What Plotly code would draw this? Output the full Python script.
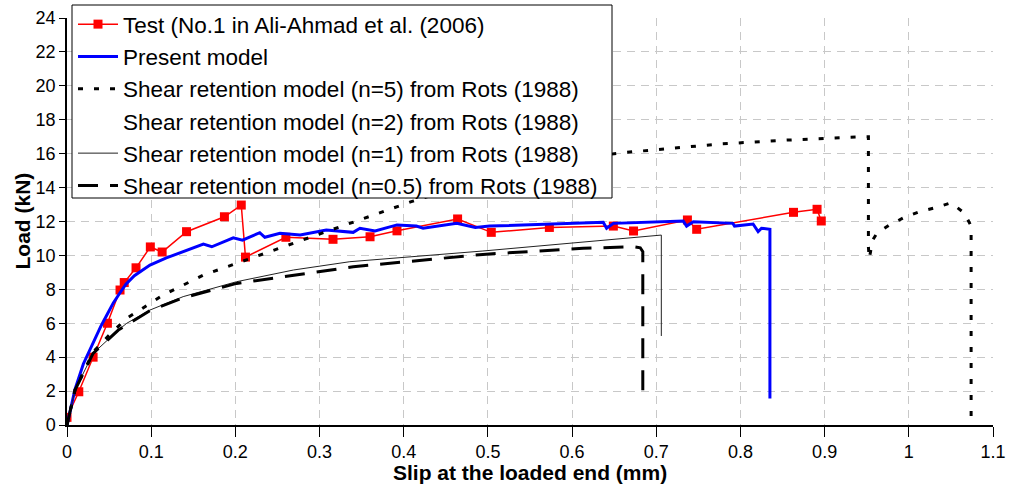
import plotly.graph_objects as go

# ---- Data ----
test_x = [0.0, 0.014, 0.031, 0.048, 0.063, 0.068, 0.082, 0.099, 0.113, 0.142, 0.187, 0.207, 0.212,
          0.260, 0.316, 0.360, 0.392, 0.464, 0.504, 0.573, 0.649, 0.673, 0.737, 0.748, 0.863, 0.891, 0.896]
test_y = [0.45, 1.96, 4.0, 6.0, 7.96, 8.4, 9.27, 10.5, 10.2, 11.4, 12.28, 12.97, 9.9,
          11.07, 10.95, 11.1, 11.45, 12.15, 11.36, 11.65, 11.73, 11.44, 12.09, 11.54, 12.54, 12.72, 12.03]

model_x = [0.0, 0.005, 0.0095, 0.0194, 0.031, 0.04, 0.0475, 0.055, 0.063, 0.07, 0.08, 0.0986, 0.118, 0.138,
           0.162, 0.172, 0.1975, 0.2085, 0.229, 0.235, 0.253, 0.277, 0.308, 0.34, 0.348, 0.366, 0.392,
           0.415, 0.423, 0.463, 0.485, 0.502, 0.574, 0.637, 0.641, 0.649, 0.732, 0.736, 0.744, 0.791,
           0.793, 0.815, 0.821, 0.825, 0.835, 0.835]
model_y = [0.0, 1.2, 2.1, 3.6, 4.9, 5.8, 6.5, 7.2, 7.8, 8.3, 8.8, 9.43, 9.85, 10.22,
           10.67, 10.51, 11.04, 10.9, 11.34, 11.07, 11.3, 11.2, 11.5, 11.36, 11.6, 11.44, 11.8,
           11.73, 11.6, 11.89, 11.65, 11.73, 11.85, 11.95, 11.6, 11.89, 12.03, 11.73, 11.99, 11.89,
           11.73, 11.85, 11.4, 11.6, 11.54, 1.57]

n5_x = [0.0, 0.0095, 0.031, 0.05, 0.071, 0.114, 0.162, 0.2015, 0.261, 0.312, 0.348, 0.3875, 0.409,
        0.45, 0.5, 0.55, 0.6, 0.65, 0.672, 0.7755, 0.855, 0.946, 0.952, 0.952, 0.953, 0.957, 0.962,
        0.977, 0.995, 1.013, 1.033, 1.05, 1.066, 1.074, 1.074]
n5_y = [0.0, 2.06, 4.3, 5.3, 6.29, 7.66, 8.84, 9.53, 10.61, 11.5, 12.09, 12.78, 13.17,
        13.8, 14.5, 15.1, 15.6, 16.0, 16.11, 16.57, 16.8, 17.0, 17.0, 10.5, 9.8, 10.9, 11.3,
        11.79, 12.25, 12.58, 12.83, 13.1, 12.5, 11.73, 0.3]

n2_x = [0.0, 0.2, 0.4, 0.6]
n2_y = [0.0, 8.6, 9.9, 10.8]

n1_x = [0.0, 0.0095, 0.031, 0.061, 0.071, 0.0986, 0.138, 0.2015, 0.269, 0.336, 0.494, 0.6, 0.704, 0.706, 0.706]
n1_y = [0.0, 2.06, 4.22, 5.6, 6.0, 6.78, 7.57, 8.45, 9.14, 9.63, 10.26, 10.75, 11.2, 11.2, 5.25]

n05_x = [0.0, 0.0095, 0.031, 0.061, 0.0986, 0.138, 0.2015, 0.269, 0.34, 0.494, 0.613, 0.673, 0.681, 0.684, 0.684]
n05_y = [0.0, 2.06, 4.22, 5.6, 6.75, 7.5, 8.35, 8.84, 9.33, 10.06, 10.42, 10.51, 10.45, 10.22, 1.67]

x_ticks = [0, 0.1, 0.2, 0.3, 0.4, 0.5, 0.6, 0.7, 0.8, 0.9, 1, 1.1]
x_tick_labels = ["0", "0.1", "0.2", "0.3", "0.4", "0.5", "0.6", "0.7", "0.8", "0.9", "1", "1.1"]
y_ticks = list(range(0, 25, 2))

FONT = "Liberation Sans, Arial, sans-serif"
W, H = 1011, 491
ML, MR, MT, MB = 67, 18, 18, 66
PW, PH = W - ML - MR, H - MT - MB

fig = go.Figure()
fig.add_trace(go.Scatter(x=test_x, y=test_y, mode="lines+markers",
                         name="Test (No.1 in Ali-Ahmad et al. (2006)",
                         line=dict(color="#ff0000", width=1.5),
                         marker=dict(symbol="square", size=9, color="#ff0000")))
fig.add_trace(go.Scatter(x=model_x, y=model_y, mode="lines", name="Present model",
                         line=dict(color="#0000ff", width=3)))
fig.add_trace(go.Scatter(x=n5_x, y=n5_y, mode="lines",
                         name="Shear retention model (n=5) from Rots (1988)",
                         line=dict(color="black", width=3, dash="5px,11px")))
fig.add_trace(go.Scatter(x=n2_x, y=n2_y, mode="lines",
                         name="Shear retention model (n=2) from Rots (1988)",
                         line=dict(color="rgba(255,255,255,0)", width=1)))
fig.add_trace(go.Scatter(x=n1_x, y=n1_y, mode="lines",
                         name="Shear retention model (n=1) from Rots (1988)",
                         line=dict(color="#222222", width=1)))
fig.add_trace(go.Scatter(x=n05_x, y=n05_y, mode="lines",
                         name="Shear retention model (n=0.5) from Rots (1988)",
                         line=dict(color="black", width=3, dash="20px,12px")))

# legend frame (opaque white box with black border, drawn above the traces)
box_l, box_t, box_r, box_b = 72, 5, 612, 198
fig.add_shape(type="rect", xref="paper", yref="paper", layer="above",
              x0=(box_l - ML) / PW, x1=(box_r - ML) / PW,
              y0=(H - MB - box_b) / PH, y1=(H - MB - box_t) / PH,
              fillcolor="white", line=dict(color="black", width=1))

# axis titles
fig.add_annotation(text="<b>Load (kN)</b>", xref="paper", yref="paper",
                   x=(22 - ML) / PW, y=0.5, textangle=-90, showarrow=False,
                   xanchor="center", yanchor="middle", font=dict(size=21, family=FONT))
fig.add_annotation(text="<b>Slip at the loaded end (mm)</b>", xref="paper", yref="paper",
                   x=0.5, y=(H - MB - 472) / PH, showarrow=False,
                   xanchor="center", yanchor="middle", font=dict(size=21, family=FONT))

fig.update_layout(
    width=W, height=H,
    margin=dict(l=ML, r=MR, t=MT, b=MB, autoexpand=False),
    paper_bgcolor="white", plot_bgcolor="white",
    font=dict(family=FONT, color="black", size=18),
    showlegend=True,
    legend=dict(x=73 / W, y=1 - 3 / H, xref="container", yref="container",
                xanchor="left", yanchor="top",
                bgcolor="rgba(0,0,0,0)", borderwidth=0,
                font=dict(family=FONT, size=22.5, color="black"),
                itemwidth=40),
)
fig.update_xaxes(range=[0, 1.1], tickmode="array", tickvals=x_ticks, ticktext=x_tick_labels,
                 showline=True, linecolor="black", linewidth=1.5,
                 ticks="outside", ticklen=10, tickcolor="black",
                 showgrid=True, gridcolor="#c8c8c8", gridwidth=1, griddash="8px,6px",
                 zeroline=False, tickfont=dict(size=18))
fig.update_yaxes(range=[0, 24], tickmode="array", tickvals=y_ticks,
                 showline=True, linecolor="black", linewidth=1.5,
                 ticks="outside", ticklen=6, tickcolor="black", ticksuffix="\u00a0",
                 showgrid=True, gridcolor="#c8c8c8", gridwidth=1, griddash="8px,6px",
                 zeroline=False, tickfont=dict(size=18))

fig.write_html("out.html", config={"displayModeBar": False},
               post_script="document.body.style.margin='0';")
